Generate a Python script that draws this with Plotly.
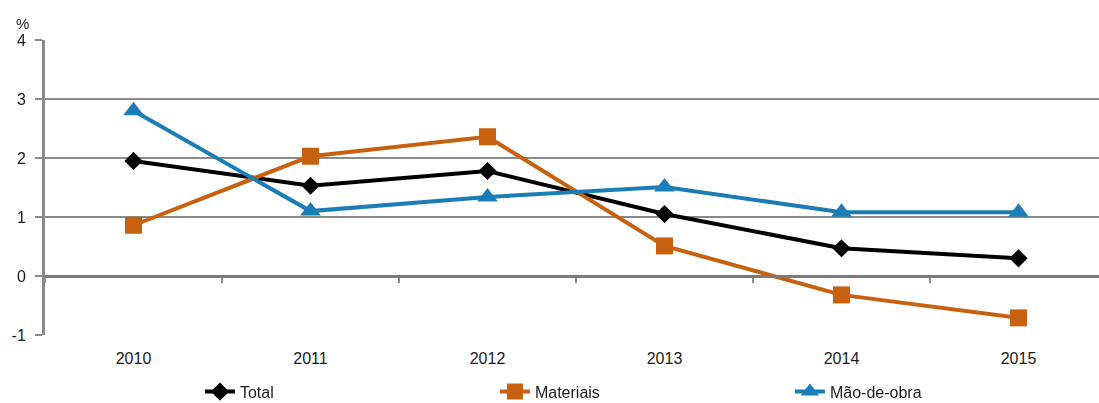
import plotly.graph_objects as go

# Annual variation (%) by component
years = ["2010", "2011", "2012", "2013", "2014", "2015"]
total = [1.95, 1.53, 1.78, 1.05, 0.47, 0.30]
materiais = [0.86, 2.03, 2.36, 0.51, -0.32, -0.71]
mao_de_obra = [2.80, 1.10, 1.34, 1.51, 1.08, 1.08]

y_ticks = [-1, 0, 1, 2, 3, 4]
y_labels = ["-1", "0", "1", "2", "3", "4"]

GRID = "#8a8a8a"
FONT = "Liberation Sans, Arial, sans-serif"
TXT = "#1a1a1a"

W, H = 1099, 403
ML, MR, MT, MB = 45, 0, 40, 68
cat_px = 177.0
x_end = (W - ML - MR) / cat_px - 0.5

fig = go.Figure()

series = [
    ("Total", total, "#000000", "diamond", 14),
    ("Materiais", materiais, "#C8610F", "square", 17),
    ("Mão-de-obra", mao_de_obra, "#1C7DB6", "triangle-up", 18),
]
for name, vals, color, symbol, size in series:
    fig.add_trace(go.Scatter(
        x=years, y=vals, name=name, mode="lines+markers",
        line=dict(color=color, width=4),
        marker=dict(symbol=symbol, size=size, color=color),
        cliponaxis=False,
    ))

# invisible trace carrying the secondary category axis drawn along y = 0
fig.add_trace(go.Scatter(
    x=years, y=total, xaxis="x2", mode="markers", opacity=0,
    showlegend=False, hoverinfo="skip",
))

fig.update_layout(
    width=W, height=H,
    margin=dict(l=ML, r=MR, t=MT, b=MB, autoexpand=False),
    paper_bgcolor="white", plot_bgcolor="white",
    font=dict(family=FONT, size=16, color=TXT),
    showlegend=True,
    legend=dict(
        orientation="h", x=0.147, xanchor="left",
        yref="container", y=0.028, yanchor="middle",
        entrywidth=250, entrywidthmode="pixels",
        font=dict(family=FONT, size=16, color=TXT),
        bgcolor="rgba(0,0,0,0)",
    ),
    xaxis=dict(
        type="category", range=[-0.5, x_end], automargin=False,
        showgrid=False, showline=False, ticks="", zeroline=False,
        ticklabelstandoff=12,
        tickfont=dict(family=FONT, size=16, color=TXT),
    ),
    xaxis2=dict(
        type="category", matches="x", overlaying="x", anchor="free", position=0.2,
        showticklabels=False, showgrid=False, zeroline=False,
        showline=True, linecolor="#7a7a7a", linewidth=3,
        ticks="outside", tickson="boundaries", ticklen=5, tickcolor=GRID, tickwidth=2,
    ),
    yaxis=dict(
        range=[-1, 4], tickvals=y_ticks, ticktext=y_labels, automargin=False,
        showgrid=True, gridcolor=GRID, gridwidth=2,
        zeroline=False,
        showline=True, linecolor=GRID, linewidth=3,
        ticks="outside", ticklen=7, tickcolor=GRID, tickwidth=2,
        ticklabelstandoff=6,
        tickfont=dict(family=FONT, size=16, color=TXT),
    ),
    annotations=[dict(
        text="%", xref="paper", yref="paper", x=-0.021, y=1.0,
        xanchor="center", yanchor="bottom", yshift=6, showarrow=False,
        font=dict(family=FONT, size=15, color=TXT),
    )],
)

fig.write_html("out.html")
